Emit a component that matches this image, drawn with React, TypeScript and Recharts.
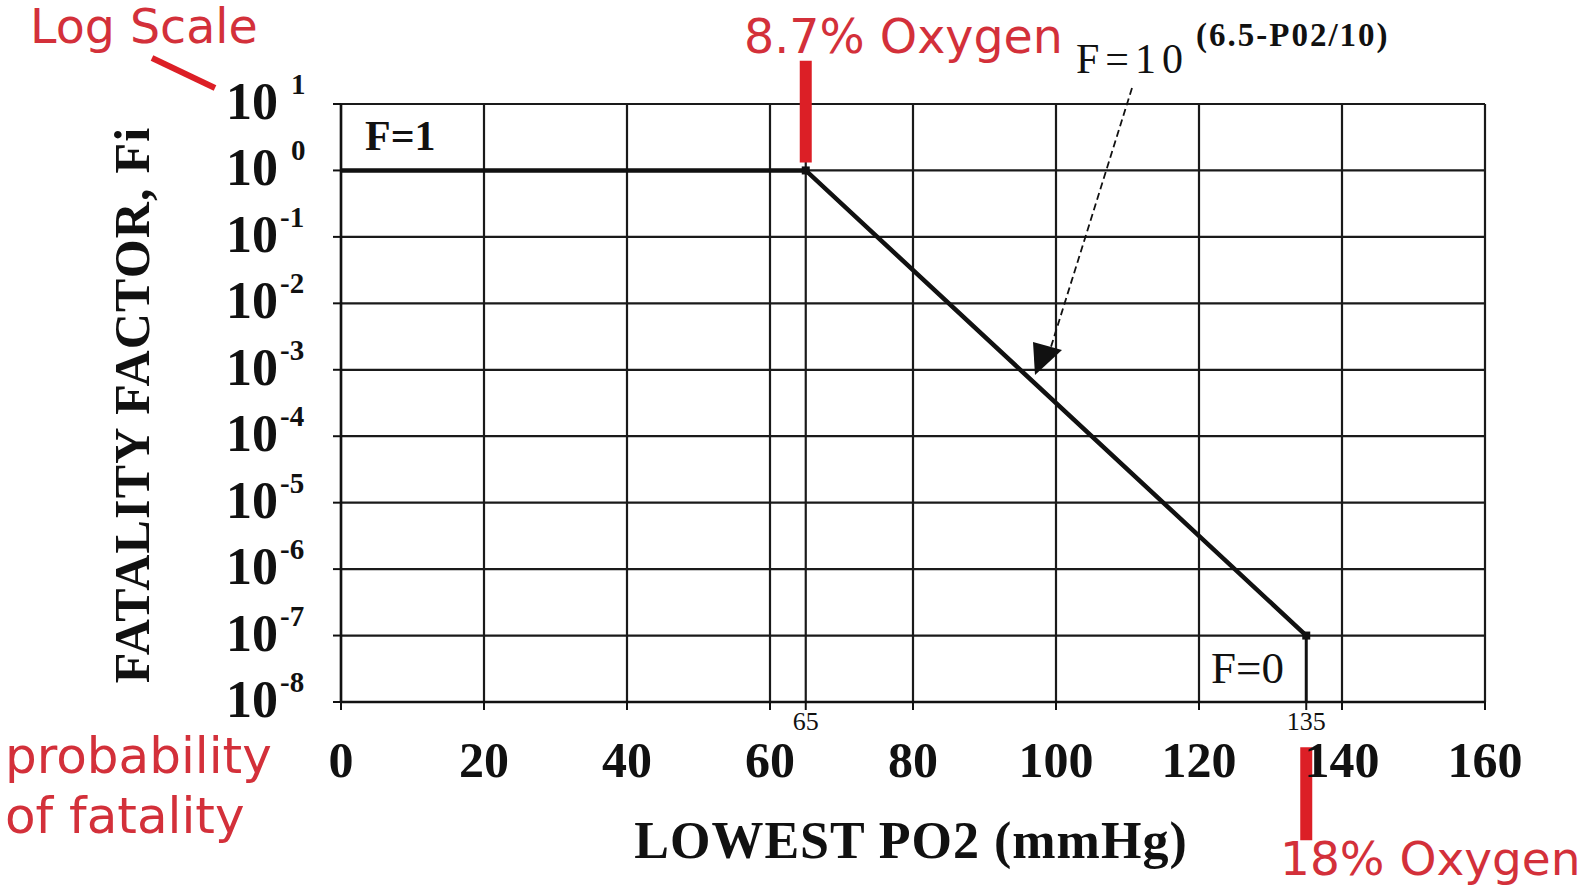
import React from 'react';
import { LineChart, Line, XAxis, YAxis, CartesianGrid, ReferenceLine } from 'recharts';

// fatality factor F vs lowest PO2 (mmHg)
const po2 = [0, 65, 135];
const fatality = [1, 1, 1e-7];
// F = 0 above 135 mmHg, drawn as a drop to the floor of the log axis
const dropPo2 = [135, 135];
const dropFatality = [1e-7, 1e-8];

const xTicks = [0, 20, 40, 60, 65, 80, 100, 120, 135, 140, 160];
const xMinorLabels = [65, 135];
const xGrid = [0, 20, 40, 60, 65, 80, 100, 120, 140, 160];
const yExponents = [1, 0, -1, -2, -3, -4, -5, -6, -7, -8];
const yTicks = yExponents.map(e => Math.pow(10, e));

// red markers: 8.7% oxygen at 65 mmHg, 18% oxygen at 135 mmHg
const oxygenPo2 = [65, 135];
const oxygenBarTop = [Math.pow(10, 1.65), Math.pow(10, -8.68)];
const oxygenBarBottom = [Math.pow(10, 0.12), Math.pow(10, -10.08)];

const curve = po2.map((x, i) => ({ x, y: fatality[i] }));
const drop = dropPo2.map((x, i) => ({ x, y: dropFatality[i] }));

const W = 1587;
const H = 890;
const SERIF = '"Liberation Serif", "Times New Roman", serif';
const SANS = '"DejaVu Sans", sans-serif';
const RED = '#d3303a';
const BAR_RED = '#dc1f26';
const INK = '#111';

const XTick = (props: any) => {
  const { x, y, payload } = props;
  const v = payload.value;
  if (xMinorLabels.includes(v)) {
    return (
      <text x={x} y={y + 20} textAnchor="middle" fontFamily={SERIF} fontSize={26} fill={INK}>
        {v}
      </text>
    );
  }
  return (
    <text x={x} y={y + 67} textAnchor="middle" fontFamily={SERIF} fontWeight="bold" fontSize={50} fill={INK}>
      {v}
    </text>
  );
};

const YTick = (props: any) => {
  const { x, y, payload } = props;
  const e = Math.round(Math.log10(payload.value));
  return (
    <g>
      <text x={x - 55} y={y + 15} textAnchor="end" fontFamily={SERIF} fontWeight="bold" fontSize={52} fill={INK}>
        10
      </text>
      <text x={x - (e >= 0 ? 42 : 53)} y={y - 10} fontFamily={SERIF} fontWeight="bold" fontSize={29} fill={INK}>
        {e}
      </text>
    </g>
  );
};

const renderDot = (props: any) => {
  const { cx, cy, index } = props;
  if (index === 0) return <g key={`d${index}`} />;
  return <rect key={`d${index}`} x={cx - 4} y={cy - 4} width={8} height={8} fill={INK} />;
};

export default function App() {
  return (
    <div style={{ position: 'absolute', left: 0, top: 0, width: W, height: H, background: '#fff' }}>
      <LineChart width={W} height={H} margin={{ top: 104, right: 102, bottom: 128, left: 221 }}>
        <CartesianGrid vertical={false} stroke="#1a1a1a" strokeWidth={2.2} />
        {xGrid.map(v => (
          <ReferenceLine key={`g${v}`} x={v} stroke="#1a1a1a" strokeWidth={2.2} />
        ))}
        <XAxis
          type="number"
          dataKey="x"
          domain={[0, 160]}
          ticks={xTicks}
          interval={0}
          allowDataOverflow
          height={60}
          tickSize={8}
          tickMargin={0}
          tick={<XTick />}
          axisLine={{ stroke: INK, strokeWidth: 2.5 }}
          tickLine={{ stroke: INK, strokeWidth: 2 }}
        />
        <YAxis
          type="number"
          dataKey="y"
          scale="log"
          domain={[1e-8, 10]}
          ticks={yTicks}
          interval={0}
          allowDataOverflow
          width={120}
          tickSize={8}
          tickMargin={0}
          tick={<YTick />}
          axisLine={{ stroke: INK, strokeWidth: 2.5 }}
          tickLine={{ stroke: INK, strokeWidth: 2 }}
        />
        {oxygenPo2.map((p, i) => (
          <ReferenceLine
            key={`o${p}`}
            ifOverflow="visible"
            segment={[{ x: p, y: oxygenBarTop[i] }, { x: p, y: oxygenBarBottom[i] }]}
            stroke={BAR_RED}
            strokeWidth={12}
          />
        ))}
        <Line data={drop} dataKey="y" type="linear" stroke={INK} strokeWidth={3} dot={false} isAnimationActive={false} />
        <Line data={curve} dataKey="y" type="linear" stroke={INK} strokeWidth={4.5} dot={renderDot} isAnimationActive={false} />
      </LineChart>

      <svg width={W} height={H} style={{ position: 'absolute', left: 0, top: 0, pointerEvents: 'none' }}>
        <text x={30} y={43} fontFamily={SANS} fontSize={47.5} fill={RED}>Log Scale</text>
        <line x1={152} y1={58} x2={215} y2={88} stroke={BAR_RED} strokeWidth={6} />
        <text x={744} y={53} fontFamily={SANS} fontSize={47.5} fill={RED}>8.7% Oxygen</text>
        <text x={1280} y={875} fontFamily={SANS} fontSize={47} fill={RED}>18% Oxygen</text>
        <text x={5} y={773} fontFamily={SANS} fontSize={50} fill={RED}>probability</text>
        <text x={5} y={833} fontFamily={SANS} fontSize={50} fill={RED}>of fatality</text>

        <text x={365} y={150} fontFamily={SERIF} fontWeight="bold" fontSize={42} fill={INK}>F=1</text>
        <text x={1211} y={683} fontFamily={SERIF} fontSize={45} fill={INK}>F=0</text>
        <text x={1076} y={73} fontFamily={SERIF} fontSize={42} letterSpacing={6} fill={INK}>F=10</text>
        <text x={1196} y={46} fontFamily={SERIF} fontWeight="bold" fontSize={33} letterSpacing={2} fill={INK}>(6.5-P02/10)</text>
        <line x1={1132} y1={88} x2={1050} y2={350} stroke={INK} strokeWidth={1.8} strokeDasharray="7 4" />
        <polygon points="1035,375 1033,342 1062,350" fill={INK} />

        <text
          transform="translate(149,405) rotate(-90)"
          textAnchor="middle"
          fontFamily={SERIF}
          fontWeight="bold"
          fontSize={50}
          letterSpacing={1.2}
          fill={INK}
        >
          FATALITY FACTOR, Fi
        </text>
        <text x={911} y={858} textAnchor="middle" fontFamily={SERIF} fontWeight="bold" fontSize={52} letterSpacing={1} fill={INK}>
          LOWEST PO2 (mmHg)
        </text>
      </svg>
    </div>
  );
}
